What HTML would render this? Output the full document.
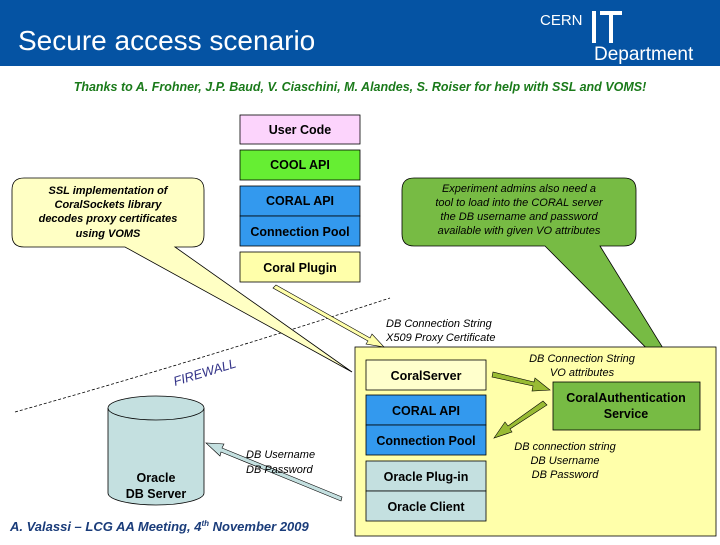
<!DOCTYPE html>
<html><head><meta charset="utf-8"><style>
body{margin:0;width:720px;height:540px;overflow:hidden;background:#fff}
text{font-family:"Liberation Sans",sans-serif}
</style></head><body>
<svg width="720" height="540" viewBox="0 0 720 540" xmlns="http://www.w3.org/2000/svg">
<rect x="0" y="0" width="720" height="66" fill="#0553a3"/>
<text x="18" y="50" font-size="28" fill="#fff">Secure access scenario</text>
<text x="540" y="25" font-size="15" fill="#fff">CERN</text>
<rect x="592" y="11" width="4" height="32" fill="#fff"/>
<rect x="600" y="11" width="22" height="4" fill="#fff"/><rect x="609" y="11" width="4" height="32" fill="#fff"/>
<text x="594" y="60" font-size="19" fill="#fff">Department</text>
<text x="360" y="91" font-size="12.5" font-weight="bold" font-style="italic" fill="#1a7a1a" text-anchor="middle">Thanks to A. Frohner, J.P. Baud, V. Ciaschini, M. Alandes, S. Roiser for help with SSL and VOMS!</text>

<path d="M15 412 Q200 360 390 298" fill="none" stroke="#000" stroke-width="0.8" stroke-dasharray="3,2"/>
<text x="0" y="0" font-size="13" font-style="italic" fill="#333388" transform="translate(175,386) rotate(-17)">FIREWALL</text>

<path d="M24 178 H192 Q204 178 204 190 V235 Q204 247 192 247 H175 L352 372 L125 247 H24 Q12 247 12 235 V190 Q12 178 24 178Z" fill="#ffffc4" stroke="#000" stroke-width="0.8"/>
<text font-size="11" font-style="italic" font-weight="bold" fill="#000" text-anchor="middle"><tspan x="108" y="194">SSL implementation of</tspan><tspan x="108" y="208">CoralSockets library</tspan><tspan x="108" y="222">decodes proxy certificates</tspan><tspan x="108" y="237">using VOMS</tspan></text>
<path d="M414 178 H624 Q636 178 636 190 V234 Q636 246 624 246 H600 L690 392 L545 246 H414 Q402 246 402 234 V190 Q402 178 414 178Z" fill="#77bb44" stroke="#000" stroke-width="0.8"/>
<text font-size="11" font-style="italic" fill="#000" text-anchor="middle"><tspan x="519" y="192">Experiment admins also need a</tspan><tspan x="519" y="206">tool to load into the CORAL server</tspan><tspan x="519" y="220">the DB username and password</tspan><tspan x="519" y="234">available with given VO attributes</tspan></text>

<g stroke="#000" stroke-width="0.8">
<rect x="240" y="115" width="120" height="29" fill="#fcd4fc"/>
<rect x="240" y="150" width="120" height="30" fill="#66ee33"/>
<rect x="240" y="186" width="120" height="30" fill="#3399ee"/>
<rect x="240" y="216" width="120" height="30" fill="#3399ee"/>
<rect x="240" y="252" width="120" height="30" fill="#ffffaa"/>
</g>
<g font-size="12.5" font-weight="bold" text-anchor="middle" fill="#000">
<text x="300" y="134">User Code</text><text x="300" y="169">COOL API</text>
<text x="300" y="205">CORAL API</text><text x="300" y="236">Connection Pool</text>
<text x="300" y="272">Coral Plugin</text>
</g>

<text font-size="11" font-style="italic" fill="#000"><tspan x="386" y="327">DB Connection String</tspan><tspan x="386" y="341">X509 Proxy Certificate</tspan></text>

<rect x="355" y="347" width="361" height="189" fill="#ffffaa" stroke="#000" stroke-width="0.8"/>
<g stroke="#000" stroke-width="0.8">
<rect x="366" y="360" width="120" height="30" fill="#ffffcc"/>
<rect x="366" y="395" width="120" height="30" fill="#3399ee"/>
<rect x="366" y="425" width="120" height="30" fill="#3399ee"/>
<rect x="366" y="461" width="120" height="30" fill="#c4e0e0"/>
<rect x="366" y="491" width="120" height="30" fill="#c4e0e0"/>
<rect x="553" y="382" width="147" height="48" fill="#77bb44"/>
</g>
<g font-size="12.5" font-weight="bold" text-anchor="middle" fill="#000">
<text x="426" y="380">CoralServer</text><text x="426" y="415">CORAL API</text>
<text x="426" y="445">Connection Pool</text><text x="426" y="481">Oracle Plug-in</text>
<text x="426" y="511">Oracle Client</text>
<text x="626" y="402">CoralAuthentication</text><text x="626" y="418">Service</text>
</g>
<text font-size="11" font-style="italic" fill="#000" text-anchor="middle"><tspan x="582" y="362">DB Connection String</tspan><tspan x="582" y="376">VO attributes</tspan></text>
<text font-size="11" font-style="italic" fill="#000" text-anchor="middle"><tspan x="565" y="450">DB connection string</tspan><tspan x="565" y="464">DB Username</tspan><tspan x="565" y="478">DB Password</tspan></text>

<g stroke="#000" stroke-width="0.6">
<polygon points="273,288 276,285 370,338 372,334 384,347 366,344 368,341" fill="#ffffaa"/>
<polygon points="492,377 493,372 534,382 535,378 550,390 532,391 533,386" fill="#99bb33"/>
<polygon points="547,405 543,401 508,426 505,422 494,438 512,432 510,429" fill="#99bb33"/>
<polygon points="342,497 341,501 221,452 220,456 206,443 224,444 222,448" fill="#c4e0e0"/>
</g>

<path d="M108 408 V493 A48 12 0 0 0 204 493 V408" fill="#c4e0e0" stroke="#000" stroke-width="0.8"/>
<ellipse cx="156" cy="408" rx="48" ry="12" fill="#c4e0e0" stroke="#000" stroke-width="0.8"/>
<text font-size="12.5" font-weight="bold" text-anchor="middle" fill="#000"><tspan x="156" y="482">Oracle</tspan><tspan x="156" y="498">DB Server</tspan></text>
<text font-size="11" font-style="italic" fill="#000"><tspan x="246" y="458">DB Username</tspan><tspan x="246" y="473">DB Password</tspan></text>

<text x="10" y="531" font-size="13" font-style="italic" font-weight="bold" fill="#1a3c7a">A. Valassi – LCG AA Meeting, 4<tspan font-size="8" dy="-5">th</tspan><tspan dy="5"> November 2009</tspan></text>
</svg>
</body></html>
